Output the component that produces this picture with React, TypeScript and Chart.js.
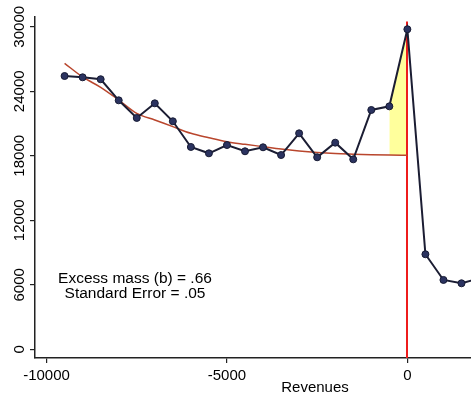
import React, { useEffect, useRef } from "react";
import { Chart, registerables } from "chart.js";

Chart.register(...registerables);

// Revenue bins (bin centres) and observed counts
const bins = [
  -9500, -9000, -8500, -8000, -7500, -7000, -6500, -6000, -5500, -5000,
  -4500, -4000, -3500, -3000, -2500, -2000, -1500, -1000, -500, 0,
  500, 1000, 1500, 2000,
];
const counts = [
  25420, 25300, 25120, 23160, 21520, 22880, 21210, 18820, 18230, 19000,
  18420, 18790, 18070, 20090, 17860, 19220, 17670, 22260, 22600, 29770,
  8840, 6450, 6140, 6600,
];

// Counterfactual (fitted polynomial) density, left of the threshold
const fitBins = [
  -9500, -9000, -8500, -8000, -7500, -7000, -6500, -6000, -5500, -5000,
  -4500, -4000, -3500, -3000, -2500, -2000, -1500, -1000, -500, 0,
];
const fitted = [
  26600, 25330, 24370, 23190, 21950, 21330, 20710, 20090, 19680, 19310,
  19070, 18850, 18630, 18450, 18310, 18210, 18150, 18100, 18070, 18055,
];

// Excluded window where excess mass is measured
const excludedFrom = -500;
const cutoff = 0;
const cutoffLineTop = 30500;

const xTicks = [-10000, -5000, 0];
const yTicks = [0, 6000, 12000, 18000, 24000, 30000];
const xMin = -10320;
const xMax = 5200;
const yMin = -810;
const yMax = 30910;

const annotationLines = ["Excess mass (b) = .66", "Standard Error = .05"];
const xTitle = "Revenues";

const FONT = "'Liberation Sans', Arial, Helvetica, sans-serif";

export default function App() {
  const ref = useRef<HTMLCanvasElement>(null);

  useEffect(() => {
    const canvas = ref.current;
    if (!canvas) return;

    const yellowBins = bins.filter((b) => b >= excludedFrom && b <= cutoff);
    const yellowTop = yellowBins.map((b) => ({ x: b, y: counts[bins.indexOf(b)] }));
    const yellowBottom = yellowBins.map((b) => ({ x: b, y: fitted[fitBins.indexOf(b)] }));

    const cutoffPlugin = {
      id: "cutoffLine",
      beforeDatasetDraw(chart: any, args: any) {
        if (args.index !== 1) return;
        const { ctx, chartArea, scales } = chart;
        const x = Math.round(scales.x.getPixelForValue(cutoff));
        const yTop = scales.y.getPixelForValue(cutoffLineTop);
        ctx.save();
        ctx.strokeStyle = "#ee1c1c";
        ctx.lineWidth = 2;
        ctx.beginPath();
        ctx.moveTo(x, chartArea.bottom);
        ctx.lineTo(x, yTop);
        ctx.stroke();
        ctx.restore();
      },
    };

    const annotationPlugin = {
      id: "annotationText",
      afterDraw(chart: any) {
        const { ctx, chartArea } = chart;
        ctx.save();
        ctx.fillStyle = "#000";
        ctx.font = `15.5px ${FONT}`;
        ctx.textAlign = "center";
        ctx.textBaseline = "middle";
        const cx = chartArea.left + 100;
        annotationLines.forEach((t, i) => {
          ctx.fillText(t, cx, chartArea.top + 261.5 + i * 15);
        });
        ctx.restore();
      },
    };

    const chart = new Chart(canvas, {
      type: "line",
      data: {
        datasets: [
          {
            data: bins.map((b, i) => ({ x: b, y: counts[i] })),
            borderColor: "#1b1d33",
            borderWidth: 2,
            pointRadius: 3.5,
            pointBackgroundColor: "#2b3360",
            pointBorderColor: "#161a33",
            pointBorderWidth: 1,
            tension: 0,
            fill: false,
          },
          {
            data: fitBins.map((b, i) => ({ x: b, y: fitted[i] })),
            borderColor: "#b9462d",
            borderWidth: 1.5,
            pointRadius: 0,
            cubicInterpolationMode: "monotone",
            fill: false,
          },
          {
            data: yellowTop,
            borderWidth: 0,
            borderColor: "rgba(0,0,0,0)",
            pointRadius: 0,
            backgroundColor: "#ffff9c",
            fill: "+1",
          },
          {
            data: yellowBottom,
            borderWidth: 0,
            borderColor: "rgba(0,0,0,0)",
            pointRadius: 0,
            fill: false,
          },
        ],
      },
      options: {
        animation: false,
        responsive: false,
        layout: { padding: { left: 0, top: 17, right: 1, bottom: 0 } },
        plugins: {
          legend: { display: false },
          tooltip: { enabled: false },
        },
        scales: {
          x: {
            type: "linear",
            min: xMin,
            max: xMax,
            afterBuildTicks: (ax: any) => {
              ax.ticks = xTicks.map((v) => ({ value: v }));
            },
            afterFit: (s: any) => {
              s.height = 35;
            },
            ticks: {
              callback: (v: any) => String(v),
              font: { family: FONT, size: 15, lineHeight: 1 },
              color: "#000",
              padding: 5.5,
              maxRotation: 0,
              minRotation: 0,
              autoSkip: false,
            },
            grid: {
              drawOnChartArea: false,
              drawTicks: true,
              tickLength: 5,
              color: "#222",
              lineWidth: 1.2,
            },
            border: { display: true, color: "#222", width: 1.5 },
            title: {
              display: true,
              text: xTitle,
              font: { family: FONT, size: 15, lineHeight: 1 },
              color: "#000",
              padding: { top: 0, bottom: -2 },
            },
          },
          y: {
            type: "linear",
            min: yMin,
            max: yMax,
            afterBuildTicks: (ax: any) => {
              ax.ticks = yTicks.map((v) => ({ value: v }));
            },
            afterFit: (s: any) => {
              s.width = 35;
            },
            ticks: {
              callback: (v: any) => String(v),
              font: { family: FONT, size: 15, lineHeight: 1 },
              color: "#000",
              padding: -10.35,
              minRotation: 90,
              maxRotation: 90,
              crossAlign: "center",
              autoSkip: false,
            },
            grid: {
              drawOnChartArea: false,
              drawTicks: true,
              tickLength: 5,
              color: "#222",
              lineWidth: 1.2,
            },
            border: { display: true, color: "#222", width: 1.5 },
          },
        },
      } as any,
      plugins: [cutoffPlugin, annotationPlugin],
    });

    return () => chart.destroy();
  }, []);

  return (
    <div
      style={{
        position: "fixed",
        left: 0,
        top: 0,
        width: 471,
        height: 393,
        overflow: "hidden",
        background: "#fff",
      }}
    >
      <canvas ref={ref} width={600} height={393} style={{ display: "block" }} />
    </div>
  );
}
